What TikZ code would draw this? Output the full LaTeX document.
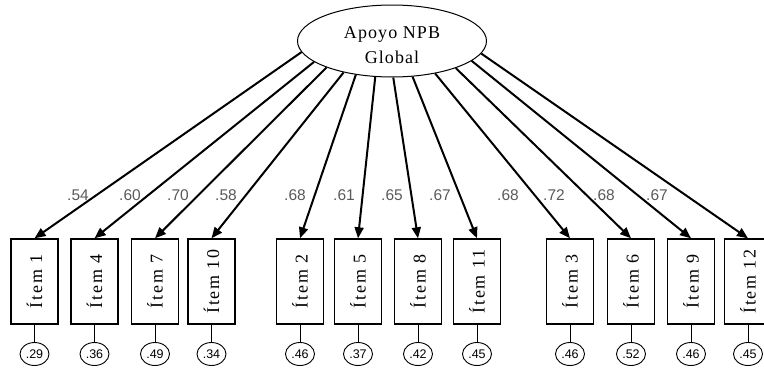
\documentclass[tikz,border=0pt]{standalone}
\usepackage{fontspec}
\setmainfont{Liberation Serif}
\newfontfamily\labfont{Liberation Sans}
\usetikzlibrary{shapes.geometric,arrows.meta}

\begin{document}
\begin{tikzpicture}[x=1pt,y=-1pt,
  latent/.style={ellipse, draw, line width=1pt, minimum width=189pt, minimum height=72pt, inner sep=0pt},
  latname/.style={align=center, font=\fontsize{18}{25}\selectfont\addfontfeature{LetterSpace=6}},
  itembox/.style={draw, line width=1.4pt, minimum width=47pt, minimum height=85pt, inner sep=0pt,
    font=\fontsize{18}{18}\selectfont\addfontfeature{LetterSpace=10}},
  errc/.style={ellipse, draw, line width=0.9pt, minimum width=29pt, minimum height=23pt, inner sep=0pt,
    font=\labfont\fontsize{12.5}{12.5}\selectfont},
  load/.style={-{Triangle[length=11pt,width=9pt]}, line width=2pt},
  loadlab/.style={font=\labfont\fontsize{15.5}{15.5}\selectfont, text=black!65},
  errline/.style={line width=1pt}]

\useasboundingbox (0,0) rectangle (764,372);

% second-order factor
\node[latent] (lat) at (392,41) {};
\node[latname] (latlabel) at (392,45) {Apoyo NPB\\Global};

% indicators, residuals, loadings
\foreach \n/\x/\e/\a/\l/\lx in {
  1/34.5/.29/187/.54/78,
  4/94.5/.36/195/.60/130,
  7/155/.49/202/.70/178,
  10/211.5/.34/213/.58/226,
  2/300/.46/223/.68/295,
  5/358/.37/245/.61/344,
  8/418/.42/272/.65/392,
  11/477/.45/300/.67/440,
  3/570/.46/323/.68/508,
  6/631/.52/337/.72/554,
  9/691/.46/346/.68/604,
  12/748/.45/352/.67/657}{
  \node[itembox] (box\n) at (\x,281.5) {\rotatebox{90}{Ítem \n}};
  \node[errc] (err\n) at (\x,354) {\e};
  \draw[errline] (box\n.south) -- (err\n.north);
  \draw[load] (lat.\a) -- (box\n.north);
  \node[loadlab] (lab\n) at (\lx,195) {\l};
}
\end{tikzpicture}
\end{document}
